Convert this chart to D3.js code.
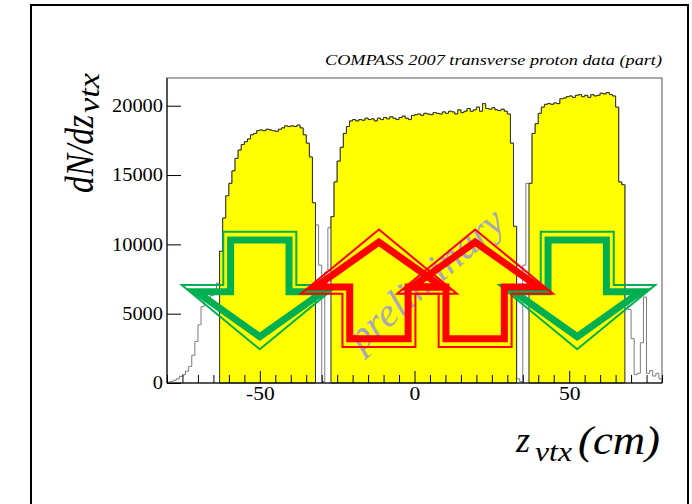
<!DOCTYPE html>
<html>
<head>
<meta charset="utf-8">
<script src="https://cdn.jsdelivr.net/npm/d3@7"></script>
<style>
  body { margin: 0; background: #fff; }
  svg { display: block; }
  text { font-family: "Liberation Serif", "DejaVu Serif", serif; }
</style>
</head>
<body>
<svg id="chart" width="692" height="504"></svg>
<script>
// z-vertex histogram, 1 cm bins from -80 cm to +80 cm
const binStart = -80;
const binWidth = 1;
const counts = [
  60, 100, 200, 300, 480, 600, 850, 1200, 2000, 3000,
  4200, 5500, 5900, 6100, 6300, 6600, 7200, 9500, 11900, 13500,
  14400, 15300, 16200, 16800, 17200, 17400, 17600, 17900, 18000, 18200,
  18250, 18200, 18300, 18250, 18200, 18150, 18300, 18400, 18550, 18500,
  18550, 18500, 18600, 18400, 17900, 17300, 16300, 13000, 11400, 8500,
  100, 8000, 11200, 12000, 14500, 16000, 17000, 18000, 18500, 18900,
  19000, 18900, 19000, 18950, 19100, 19000, 19050, 18900, 19100, 19000,
  19150, 19050, 19200, 19100, 19000, 19150, 19250, 19100, 19000, 19300,
  19350, 19400, 19300, 19450, 19400, 19350, 19500, 19450, 19400, 19550,
  19450, 19600, 19550, 19400, 19700, 19500, 19600, 19800, 19600, 19700,
  19900, 19600, 20150, 19800, 19750, 19850, 19700, 19650, 19750, 19600,
  19400, 17300, 11300, 300, 100, 8500, 14400, 14400, 18000, 18700,
  19450, 19900, 20100, 20150, 20100, 20200, 20150, 20500, 20550, 20650,
  20700, 20600, 20750, 20800, 20650, 20750, 20600, 20800, 20700, 20750,
  20900, 20850, 20950, 20800, 20700, 19900, 14500, 14300, 6000, 5300,
  3200, 600, 700, 2900, 6200, 700, 900, 500, 700, 300
];

// target cell cuts (cm)
const targetCells = [[-63, -32], [-27, 33], [37, 68]];

const xTickValues = [-50, 0, 50];
const yTickValues = [0, 5000, 10000, 15000, 20000];

// polarisation arrows: position along z, direction (1 = down, -1 = up), colour
const arrowCentres = [-50, -11.5, 19.6, 52.6];
const arrowDirections = [1, -1, -1, 1];
const arrowColours = ["#00b050", "#ff0000", "#ff0000", "#00b050"];
const arrowLevel = 6750;

const titleText = "COMPASS 2007 transverse proton data (part)";
const watermarkText = "preliminary";

const svg = d3.select("#chart");

const x = d3.scaleLinear().domain([-80, 80]).range([167, 662]);
const y = d3.scaleLinear().domain([0, 22000]).range([383, 78]);

const bins = counts.map((c, i) => ({ lo: binStart + i * binWidth, hi: binStart + (i + 1) * binWidth, c }));

// canvas border
svg.append("rect")
  .attr("x", 31).attr("y", 5).attr("width", 657).attr("height", 560)
  .attr("fill", "none").attr("stroke", "#000").attr("stroke-width", 2);

// full histogram outline
const outline = [[x(binStart), y(0)]];
bins.forEach(b => { outline.push([x(b.lo), y(b.c)]); outline.push([x(b.hi), y(b.c)]); });
outline.push([x(binStart + counts.length * binWidth), y(0)]);
svg.append("path")
  .attr("d", d3.line()(outline))
  .attr("fill", "none").attr("stroke", "#7a7a7a").attr("stroke-width", 1);

// histogram restricted to the target cells
const area = d3.area()
  .x(d => x(d.x)).y0(y(0)).y1(d => y(d.c))
  .curve(d3.curveStepAfter);
targetCells.forEach(([lo, hi]) => {
  const inCell = bins.filter(b => b.lo >= lo && b.hi <= hi);
  const pts = inCell.map(b => ({ x: b.lo, c: b.c }));
  pts.push({ x: hi, c: inCell[inCell.length - 1].c });
  svg.append("path")
    .attr("d", area(pts))
    .attr("fill", "#ffff00").attr("stroke", "#2a2a2a").attr("stroke-width", 1);
});

// watermark
svg.append("text")
  .attr("transform", "translate(434,289) rotate(-41)")
  .attr("text-anchor", "middle")
  .attr("font-style", "italic").attr("font-size", 40)
  .attr("fill", "#a9a9b6")
  .attr("textLength", 194).attr("lengthAdjust", "spacingAndGlyphs")
  .text(watermarkText);

// arrows: thick outline plus a thin outer contour
const innerShape = { top: -49.4, head: 2.3, tip: 47.3, shaft: 29.2, headW: 63.5 };
const outerShape = { top: -57.7, head: -4.4, tip: 59.9, shaft: 36.5, headW: 78 };
function arrowPoints(cx, cy, dir, s) {
  return [
    [-s.shaft, s.top], [s.shaft, s.top], [s.shaft, s.head], [s.headW, s.head],
    [0, s.tip], [-s.headW, s.head], [-s.shaft, s.head]
  ].map(([dx, dy]) => [cx + dx, cy + dir * dy]);
}
const order = [0, 3, 1, 2]; // green first, red on top
order.forEach(i => {
  const cx = x(arrowCentres[i]);
  const cy = y(arrowLevel);
  const g = svg.append("g");
  g.append("path")
    .attr("d", d3.line()(arrowPoints(cx, cy, arrowDirections[i], outerShape)) + "Z")
    .attr("fill", "none").attr("stroke", arrowColours[i]).attr("stroke-width", 2)
    .attr("stroke-linejoin", "miter");
  g.append("path")
    .attr("d", d3.line()(arrowPoints(cx, cy, arrowDirections[i], innerShape)) + "Z")
    .attr("fill", "none").attr("stroke", arrowColours[i]).attr("stroke-width", 7)
    .attr("stroke-linejoin", "miter").attr("stroke-miterlimit", 6);
});

// frame
svg.append("rect")
  .attr("x", 167).attr("y", 78).attr("width", 495).attr("height", 305)
  .attr("fill", "none").attr("stroke", "#555").attr("stroke-width", 1);

// x axis
const minorX = d3.range(-80, 81, 5).filter(v => !xTickValues.includes(v));
const xMinor = svg.append("g").attr("transform", "translate(0,383)")
  .call(d3.axisBottom(x).tickValues(minorX).tickSizeInner(-8).tickSizeOuter(0).tickFormat(""));
xMinor.select(".domain").remove();
const xAxis = svg.append("g").attr("transform", "translate(0,383)")
  .call(d3.axisBottom(x).tickValues(xTickValues).tickSizeInner(-12).tickSizeOuter(0).tickPadding(4).tickFormat(d3.format("d")));
xAxis.select(".domain").remove();
xAxis.selectAll("text")
  .attr("font-family", "Liberation Serif").attr("font-size", 19).attr("fill", "#000")
  .each(function () {
    const s = this.textContent;
    const w = s.replace("−", "-").split("").reduce((a, ch) => a + (ch === "-" || ch === "−" ? 7 : 10.8), 0);
    d3.select(this).text(s.replace("−", "-")).attr("textLength", w).attr("lengthAdjust", "spacingAndGlyphs");
  });
svg.append("line").attr("x1", 167).attr("x2", 662).attr("y1", 383).attr("y2", 383)
  .attr("stroke", "#000");

// y axis
const yAxis = svg.append("g").attr("transform", "translate(167,0)")
  .call(d3.axisLeft(y).tickValues(yTickValues).tickSizeInner(-14).tickSizeOuter(0).tickPadding(4).tickFormat(d3.format("d")));
yAxis.select(".domain").remove();
yAxis.selectAll("text")
  .attr("font-family", "Liberation Serif").attr("font-size", 18).attr("fill", "#000")
  .each(function () {
    d3.select(this).attr("textLength", this.textContent.length * 10.2).attr("lengthAdjust", "spacingAndGlyphs");
  });
svg.append("line").attr("x1", 167).attr("x2", 167).attr("y1", 78).attr("y2", 383)
  .attr("stroke", "#000");

// title
svg.append("text")
  .attr("x", 325).attr("y", 65)
  .attr("font-style", "italic").attr("font-size", 14)
  .attr("textLength", 337).attr("lengthAdjust", "spacingAndGlyphs")
  .text(titleText);

// y axis title dN/dz_vtx
svg.append("text")
  .attr("transform", "translate(93,193) rotate(-90)")
  .attr("font-style", "italic").attr("font-size", 40)
  .attr("textLength", 78).attr("lengthAdjust", "spacingAndGlyphs")
  .text("dN/dz");
svg.append("text")
  .attr("transform", "translate(99,113) rotate(-90)")
  .attr("font-style", "italic").attr("font-size", 30)
  .attr("textLength", 40).attr("lengthAdjust", "spacingAndGlyphs")
  .text("vtx");

// x axis title z_vtx (cm)
svg.append("text")
  .attr("x", 516).attr("y", 452)
  .attr("font-style", "italic").attr("font-size", 36)
  .text("z");
svg.append("text")
  .attr("x", 535).attr("y", 461)
  .attr("font-style", "italic").attr("font-size", 28)
  .attr("textLength", 37).attr("lengthAdjust", "spacingAndGlyphs")
  .text("vtx");
svg.append("text")
  .attr("x", 578).attr("y", 454)
  .attr("font-style", "italic").attr("font-size", 40)
  .attr("textLength", 82).attr("lengthAdjust", "spacingAndGlyphs")
  .text("(cm)");
</script>
</body>
</html>
